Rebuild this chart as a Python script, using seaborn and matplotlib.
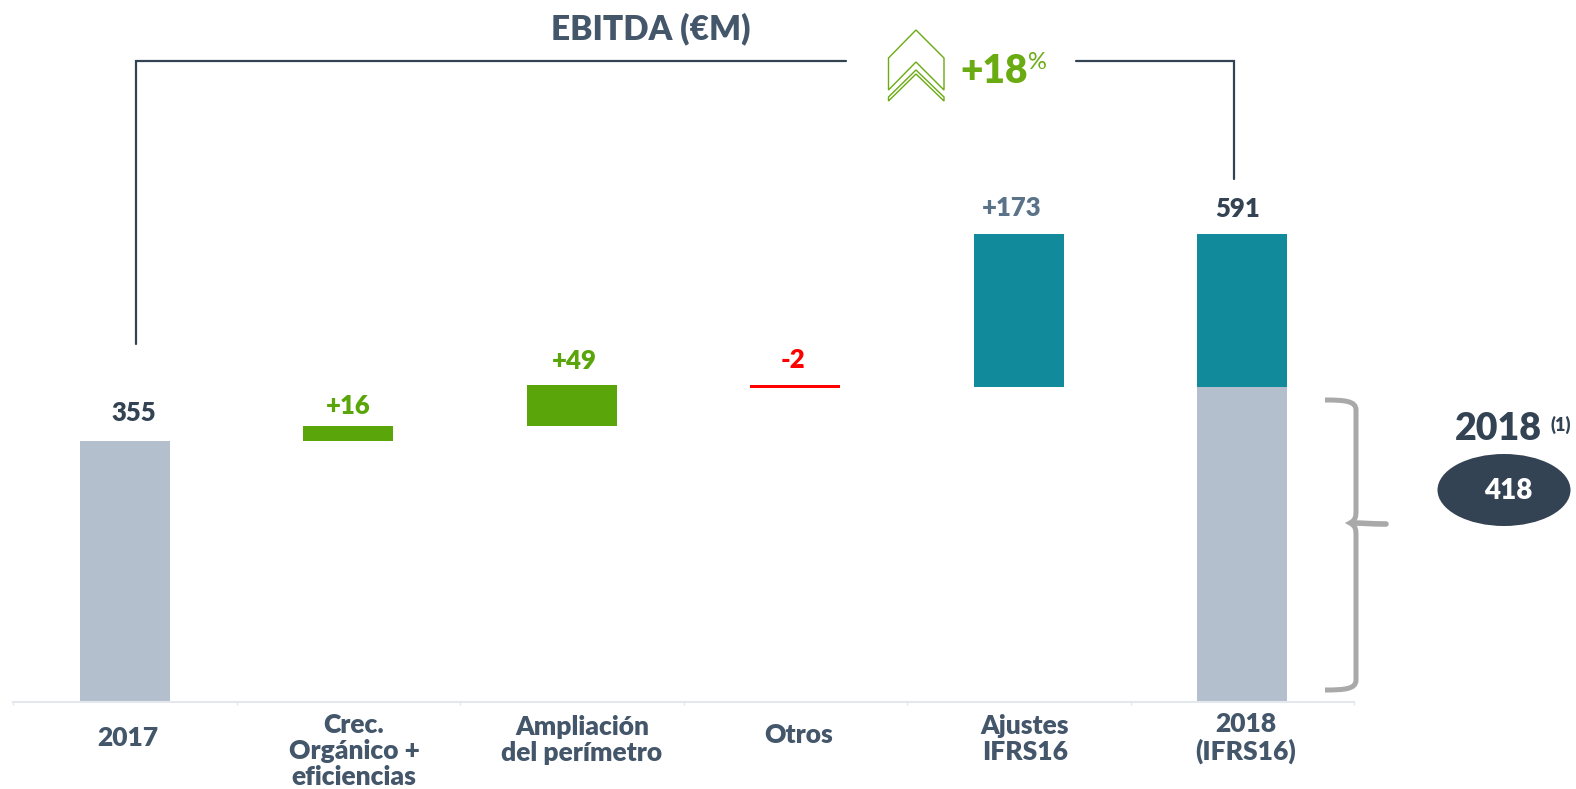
import numpy as np
import matplotlib
matplotlib.use("Agg")
import matplotlib.pyplot as plt
import seaborn as sns
from matplotlib.patches import Ellipse, PathPatch, Polygon
from matplotlib.path import Path

W, H = 1576, 789

categories = ["2017", "Crec.\nOrgánico +\neficiencias", "Ampliación\ndel perímetro", "Otros", "Ajustes\nIFRS16", "2018\n(IFRS16)"]
# the source is not drawn to scale, so these are the heights read off the picture
bar_cats = ["2017", "Crec.\nOrgánico +\neficiencias", "Ampliación\ndel perímetro", "Otros", "Ajustes\nIFRS16", "2018\n(IFRS16)", "2018\n(IFRS16)"]
bar_bottoms = [0, 346, 365, 416.5, 417, 0, 417]
bar_heights = [346, 19, 55, 3, 204, 417, 204]
bar_colors = ["#B4BFCE", "#59A50A", "#59A50A", "#FF0000", "#118A9B", "#B4BFCE", "#118A9B"]

value_labels = ["355", "+16", "+49", "-2", "+173", "591"]
value_colors = ["#344354", "#59A50A", "#59A50A", "#FF0000", "#5B7389", "#344354"]
value_px = [(134, 413), (348, 406), (574, 361), (793, 360), (1012, 208), (1238, 209)]
cat_px = [(128, 738), (354, 751), (582, 740), (799, 735), (1025, 739), (1246, 738)]

DARK = "#344354"
SLATE = "#44566A"
BOLD = 800
BASE_PX = 701.5

sns.set_theme(style="white")
plt.rcParams["font.family"] = ["Lato", "DejaVu Sans"]

fig = plt.figure(figsize=(W / 100, H / 100), dpi=100)
ax = fig.add_axes([13 / W, 1 - BASE_PX / H, (1354 - 13) / W, BASE_PX / H])

for cat, bottom, height, color in zip(bar_cats, bar_bottoms, bar_heights, bar_colors):
    sns.barplot(x=[cat], y=[height], bottom=bottom, order=categories, color=color,
                width=0.404, saturation=1, linewidth=0, ax=ax)

ax.set_xlim(-0.5, 5.5)
ax.set_ylim(0, BASE_PX / 0.7536)
ax.set_yticks([])
ax.set_xticks(np.arange(-0.5, 6, 1))
ax.set_xticklabels([])
ax.set_xlabel("")
ax.set_ylabel("")
ax.tick_params(axis="x", length=2, width=1, color="#E4E8EE", bottom=True)
for side in ["top", "left", "right"]:
    ax.spines[side].set_visible(False)
ax.spines["bottom"].set_color("#E4E8EE")
ax.spines["bottom"].set_linewidth(1.5)
ax.patch.set_alpha(0)

# overlay in pixel coordinates of the picture
ov = fig.add_axes([0, 0, 1, 1])
ov.set_xlim(0, W)
ov.set_ylim(H, 0)
ov.axis("off")

for text, color, (x, y) in zip(value_labels, value_colors, value_px):
    ov.text(x, y, text, color=color, fontsize=18.5, fontweight=BOLD, ha="center", va="center")
for text, (x, y) in zip(categories, cat_px):
    ov.text(x, y, text, color=SLATE, fontsize=19, fontweight=BOLD, ha="center", va="center",
            linespacing=1.12, multialignment="center")

ov.text(651, 29, "EBITDA (€M)", color=SLATE, fontsize=24, fontweight=BOLD, ha="center", va="center")
ov.text(994, 71, "+18", color="#6AAB12", fontsize=28, fontweight=BOLD, ha="center", va="center")
ov.text(1037, 62, "%", color="#6AAB12", fontsize=17, ha="center", va="center")

ov.plot([136, 136, 846], [344, 60.5, 60.5], color=DARK, lw=1.6, solid_joinstyle="miter")
ov.plot([1076, 1234, 1234], [60.5, 60.5, 179], color=DARK, lw=1.6, solid_joinstyle="miter")

ov.add_patch(Polygon([(916, 30), (944, 58), (944, 90), (916, 62), (888.5, 90), (888.5, 58)],
                     closed=True, fill=False, ec="#6AAB12", lw=1))
ov.add_patch(Polygon([(888.5, 97), (916, 70), (944, 97), (944, 101), (916, 74), (888.5, 101)],
                     closed=True, fill=False, ec="#6AAB12", lw=1))

brace = Path(
    [(1325, 400), (1345, 400), (1356, 401), (1356, 410), (1356, 510),
     (1356, 516), (1356, 520), (1350, 523), (1356, 526), (1356, 530), (1356, 536),
     (1356, 680), (1356, 689), (1345, 690), (1325, 690)],
    [Path.MOVETO, Path.CURVE4, Path.CURVE4, Path.CURVE4, Path.LINETO,
     Path.CURVE4, Path.CURVE4, Path.LINETO, Path.CURVE4, Path.CURVE4, Path.LINETO,
     Path.LINETO, Path.CURVE4, Path.CURVE4, Path.CURVE4])
ov.add_patch(PathPatch(brace, fill=False, ec="#A9A9A9", lw=3.6))
tip = Path([(1352, 523), (1362, 523), (1372, 524), (1386, 524)],
           [Path.MOVETO, Path.CURVE4, Path.CURVE4, Path.CURVE4])
ov.add_patch(PathPatch(tip, fill=False, ec="#A9A9A9", lw=4, capstyle="round"))

ov.text(1498, 429, "2018", color=DARK, fontsize=27, fontweight=BOLD, ha="center", va="center")
ov.text(1561, 425, "(1)", color=DARK, fontsize=13, fontweight=BOLD, ha="center", va="center")
ov.add_patch(Ellipse((1504, 490), 133, 72, fc=DARK, ec="none"))
ov.text(1508, 491, "418", color="white", fontsize=20, fontweight=BOLD, ha="center", va="center")

fig.savefig("out.png", dpi=100)
